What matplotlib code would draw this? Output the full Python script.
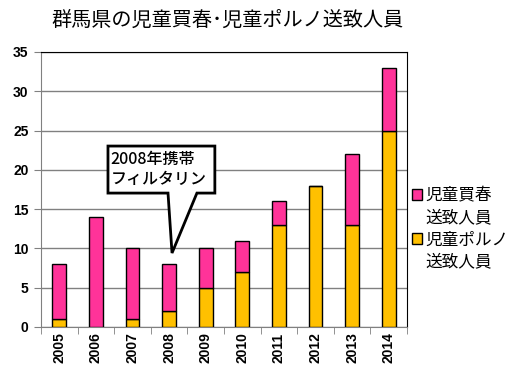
import matplotlib
matplotlib.use("Agg")
import matplotlib.pyplot as plt
from matplotlib.patches import Polygon, Patch
import numpy as np

plt.rcParams['font.family'] = ['Noto Sans CJK JP', 'DejaVu Sans']

years = ['2005', '2006', '2007', '2008', '2009', '2010', '2011', '2012', '2013', '2014']
porno = [1, 0, 1, 2, 5, 7, 13, 18, 13, 25]
baishun = [7, 14, 9, 6, 5, 4, 3, 0, 9, 8]

pink = '#FF3399'
orange = '#FFC000'

fig = plt.figure(figsize=(5.09, 3.76), dpi=100)
ax = fig.add_axes([41 / 509, 49 / 376, 366 / 509, 275 / 376])

x = np.arange(len(years))
ax.bar(x, porno, width=0.38, color=orange, edgecolor='black', linewidth=1, zorder=3)
ax.bar(x, baishun, width=0.38, bottom=porno, color=pink, edgecolor='black', linewidth=1, zorder=3)

ax.set_xlim(-0.5, len(years) - 0.5)
ax.set_ylim(0, 35)
ax.set_yticks(range(0, 36, 5))
ax.yaxis.grid(True, color='#808080', linewidth=1, zorder=0)

ax.set_xticks(x)
ax.set_xticklabels(years, rotation=90, fontsize=10, fontweight='bold', family='Liberation Sans')
ax.tick_params(axis='x', which='major', length=0, pad=4)
ax.set_xticks(np.arange(-0.5, len(years), 1), minor=True)
ax.tick_params(axis='x', which='minor', length=5, color='#808080', direction='out')
ax.tick_params(axis='y', length=5, color='#808080', direction='out', pad=4)
for lab in ax.get_yticklabels():
    lab.set_fontsize(10)
    lab.set_fontweight('bold')
    lab.set_family('Liberation Sans')

ax.spines['left'].set_color('#808080')
ax.spines['bottom'].set_color('#808080')
ax.spines['top'].set_color('black')
ax.spines['right'].set_color('black')

# callout
callout = Polygon([(0.183, 0.487), (0.347, 0.487), (0.358, 0.269), (0.426, 0.487),
                   (0.475, 0.487), (0.475, 0.658), (0.183, 0.658)],
                  closed=True, transform=ax.transAxes, facecolor='white',
                  edgecolor='black', linewidth=2, zorder=5)
ax.add_patch(callout)
ax.text(0.190, 0.573, '2008年携帯\nフィルタリン', transform=ax.transAxes, fontsize=11.5,
        fontweight='medium', ha='left', va='center', linespacing=1.2, zorder=6)

fig.text(228 / 509, 1 - 20 / 376, '群馬県の児童買春･児童ポルノ送致人員', fontsize=14.5,
         ha='center', va='center')

# legend: swatch beside the first line of each label
blank = Patch(facecolor='none', edgecolor='none')
handles = [Patch(facecolor=pink, edgecolor='black'), blank,
           Patch(facecolor=orange, edgecolor='black'), blank]
labels = ['児童買春', '送致人員', '児童ポルノ', '送致人員']
fig.legend(handles, labels, loc='center left',
           bbox_to_anchor=(410 / 509, 1 - 229 / 376), frameon=False, fontsize=12,
           handlelength=0.6, handleheight=0.6, handletextpad=0.25, labelspacing=0.3,
           borderpad=0.1, borderaxespad=0)

fig.savefig('out.png', dpi=100)
